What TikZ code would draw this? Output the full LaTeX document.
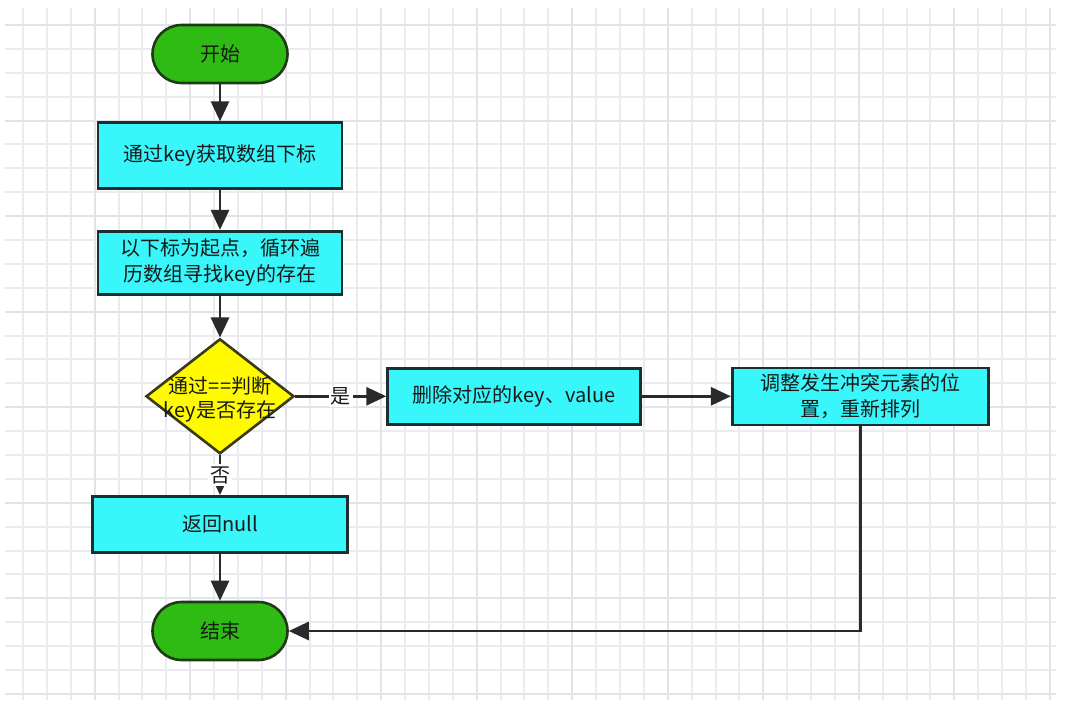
\documentclass[tikz,border=0pt]{standalone}
\usepackage{fontspec}
\setmainfont{Noto Sans CJK SC}
\usetikzlibrary{arrows.meta,positioning,shapes.geometric}
\definecolor{termgreen}{RGB}{46,188,20}
\definecolor{termedge}{RGB}{30,58,22}
\definecolor{stepcyan}{RGB}{56,246,250}
\definecolor{stepedge}{RGB}{28,46,48}
\definecolor{askyellow}{RGB}{255,250,0}
\definecolor{askedge}{RGB}{58,58,22}
\definecolor{linkgray}{RGB}{42,42,42}
\definecolor{gridminor}{RGB}{234,234,239}
\definecolor{gridmajor}{RGB}{226,226,232}
\tikzset{
  >={Triangle[length=20pt,width=18pt]},
  box/.style={draw, line width=2.6pt, align=center, inner sep=4pt, font=\fontsize{20}{26}\selectfont, text=black!90},
  termbox/.style={box, fill=termgreen, draw=termedge, rounded corners=29pt, minimum width=135pt, minimum height=58pt},
  stepbox/.style={box, fill=stepcyan, draw=stepedge, minimum width=244pt},
  askbox/.style={box, diamond, fill=askyellow, draw=askedge, minimum width=148pt, minimum height=115pt, inner sep=0pt},
  asktext/.style={align=center, inner sep=0pt, font=\fontsize{20}{24}\selectfont, text=black!90},
  link/.style={->, line width=2.8pt, draw=linkgray},
  tag/.style={fill=white, inner sep=2pt, font=\fontsize{20}{24}\selectfont, text=black!90},
}
\begin{document}
\begin{tikzpicture}[x=1pt, y=-1pt, node distance=40pt]
  \useasboundingbox[fill=white] (0,0) rectangle (1080,718);
  % background grid
  \foreach \i in {0,...,43}
    \draw[gridminor, line width=1.6pt] ({round(23+23.88*\i)},8) -- ({round(23+23.88*\i)},700);
  \foreach \i in {0,...,28}
    \draw[gridminor, line width=1.6pt] (5,{round(25+23.89*\i)}) -- (1056,{round(25+23.89*\i)});
  \foreach \i in {3,7,...,43}
    \draw[gridmajor, line width=1.8pt] ({round(23+23.88*\i)},8) -- ({round(23+23.88*\i)},700);
  \foreach \i in {0,4,...,28}
    \draw[gridmajor, line width=1.8pt] (5,{round(25+23.89*\i)}) -- (1056,{round(25+23.89*\i)});

  % flow
  \node[termbox] (start) at (220,54) {开始};
  \node[stepbox, minimum height=66pt, below=37pt of start] (index) {通过key获取数组下标};
  \node[stepbox, minimum height=63pt, below=40pt of index] (scan) {以下标为起点，循环遍\\历数组寻找key的存在};
  \node[askbox, below=42pt of scan] (ask) {};
  \node[asktext] (asklabel) at ([yshift=-3pt]ask.center) {通过==判断\\key是否存在};
  \node[stepbox, minimum width=253pt, minimum height=56pt, right=91pt of ask] (remove) {删除对应的key、value};
  \node[stepbox, minimum width=256pt, minimum height=57pt, right=89pt of remove] (rehash) {调整发生冲突元素的位\\置，重新排列};
  \node[stepbox, minimum width=255pt, minimum height=56pt, below=40pt of ask] (null) {返回null};
  \node[termbox, below=47pt of null] (end) {结束};

  \draw[link] (start) -- (index);
  \draw[link] (index) -- (scan);
  \draw[link] (scan) -- (ask);
  \draw[link] (ask) -- node[tag] {是} (remove);
  \draw[link] (ask) -- node[tag] {否} (null);
  \draw[link] (remove) -- (rehash);
  \draw[link] (null) -- (end);
  \draw[link] (rehash.south) |- (end.east);
\end{tikzpicture}
\end{document}
